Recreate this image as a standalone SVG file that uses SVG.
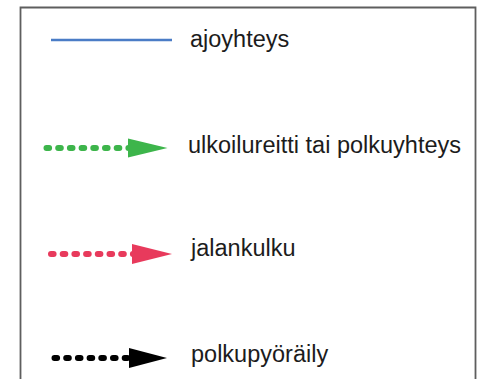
<svg xmlns="http://www.w3.org/2000/svg" width="479" height="379" viewBox="0 0 479 379">
  <style>
    .frame { fill: none; stroke: #5e5e5e; stroke-width: 1.8; }
    .label { font-family: "Liberation Sans", Arial, sans-serif; font-size: 23.5px; fill: #1c1c1c; }
    .dots { fill: none; stroke-width: 6; stroke-linecap: round; stroke-dasharray: 2.6 9.1; }
  </style>
  <rect width="479" height="379" fill="#ffffff"/>
  <!-- legend frame, open at the bottom -->
  <path class="frame" d="M20.5,379 V7.5 H475.5 V379"/>

  <g id="legend-lines">
    <!-- road connection -->
    <line x1="51" y1="40" x2="172" y2="40" stroke="#4a7cc6" stroke-width="2.6"/>
    <!-- outdoor route / path -->
    <g id="line-green">
      <path class="dots" stroke="#3db54b" d="M46.5,148 H130"/>
      <polygon points="128,138.5 167.5,148 128,157.5" fill="#3db54b"/>
    </g>
    <!-- walking -->
    <g id="line-red">
      <path class="dots" stroke="#e83a5c" d="M51,254 H134"/>
      <polygon points="132,244 172,254 132,264" fill="#e83a5c"/>
    </g>
    <!-- cycling -->
    <g id="line-black">
      <path class="dots" stroke="#000000" d="M54.5,358 H132"/>
      <polygon points="129,348 167,358 129,368" fill="#000000"/>
    </g>
  </g>

  <g id="label-ajoyhteys"><text class="label" x="190" y="46.5">ajoyhteys</text></g>
  <g id="label-ulkoilureitti"><text class="label" x="188" y="152.5">ulkoilureitti tai polkuyhteys</text></g>
  <g id="label-jalankulku"><text class="label" x="191" y="255.5">jalankulku</text></g>
  <g id="label-polkupyoraily"><text class="label" x="191" y="362">polkupyöräily</text></g>
</svg>
